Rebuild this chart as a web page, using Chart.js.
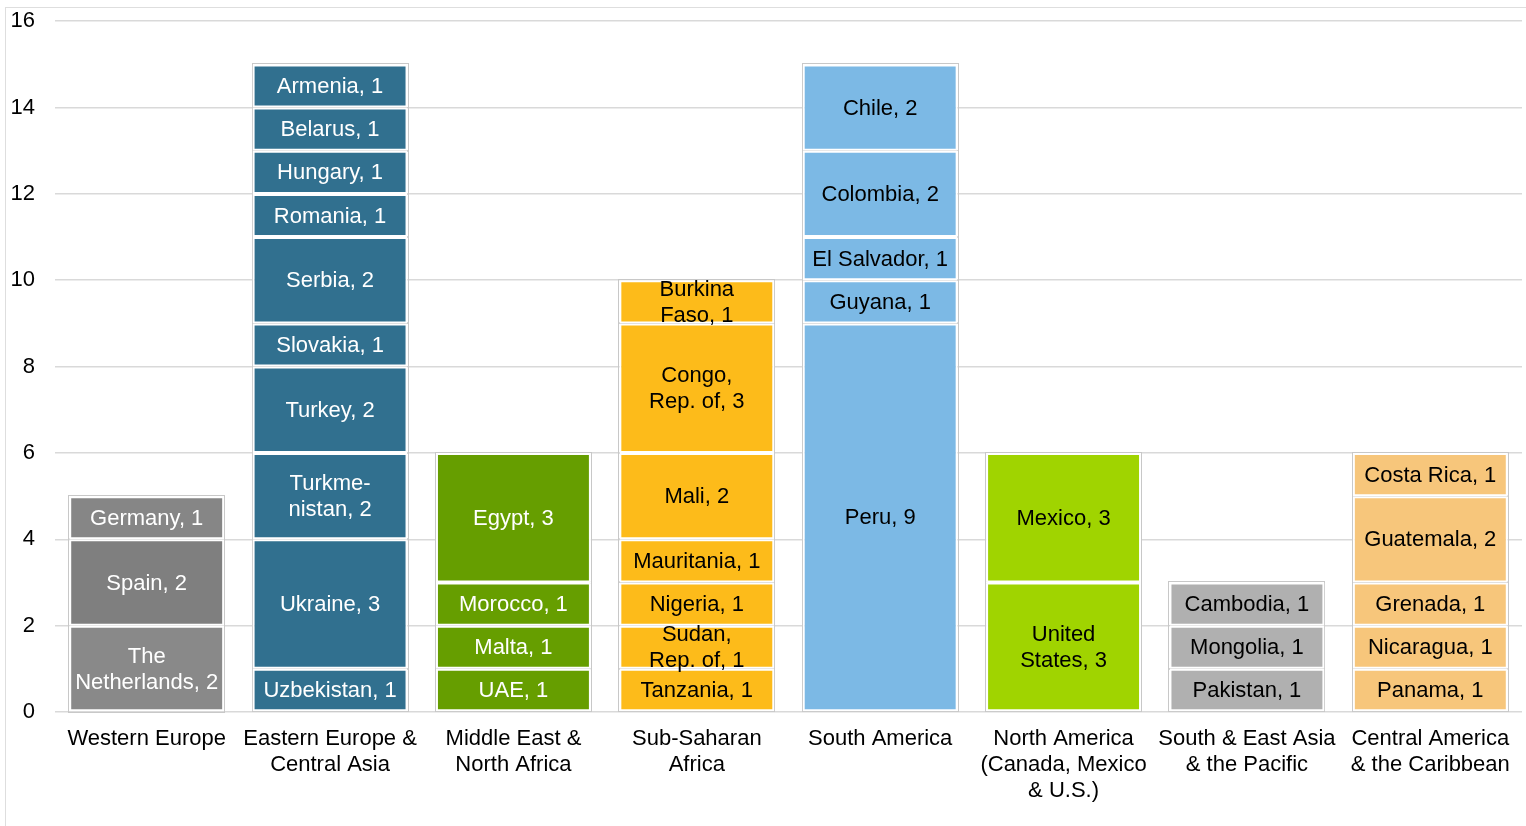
<!DOCTYPE html>
<html>
<head>
<meta charset="utf-8">
<script src="https://cdn.jsdelivr.net/npm/chart.js@4/dist/chart.umd.min.js"></script>
<style>
  html, body { margin: 0; padding: 0; background: #fff; overflow: hidden; }
  #frame { position: absolute; left: 5px; top: 7px; width: 1540px; height: 840px; border: 1px solid #dedede; }
  #wrap { position: absolute; left: 0; top: -12px; width: 1526px; height: 838px; }
</style>
</head>
<body>
<div id="frame"></div>
<div id="wrap"><canvas id="chart"></canvas></div>
<script>
// regions along the x axis
const regions = [
  ['Western Europe'],
  ['Eastern Europe &', 'Central Asia'],
  ['Middle East &', 'North Africa'],
  ['Sub-Saharan', 'Africa'],
  ['South America'],
  ['North America', '(Canada, Mexico', '& U.S.)'],
  ['South & East Asia', '& the Pacific'],
  ['Central America', '& the Caribbean']
];

// countries per region, bottom to top (\n = line break in the label)
const countries = [
  ['The\nNetherlands', 'Spain', 'Germany'],
  ['Uzbekistan', 'Ukraine', 'Turkme-\nnistan', 'Turkey', 'Slovakia', 'Serbia', 'Romania', 'Hungary', 'Belarus', 'Armenia'],
  ['UAE', 'Malta', 'Morocco', 'Egypt'],
  ['Tanzania', 'Sudan,\nRep. of', 'Nigeria', 'Mauritania', 'Mali', 'Congo,\nRep. of', 'Burkina\nFaso'],
  ['Peru', 'Guyana', 'El Salvador', 'Colombia', 'Chile'],
  ['United\nStates', 'Mexico'],
  ['Pakistan', 'Mongolia', 'Cambodia'],
  ['Panama', 'Nicaragua', 'Grenada', 'Guatemala', 'Costa Rica']
];

// count per country, same order
const counts = [
  [2, 2, 1],
  [1, 3, 2, 2, 1, 2, 1, 1, 1, 1],
  [1, 1, 1, 3],
  [1, 1, 1, 1, 2, 3, 1],
  [9, 1, 1, 2, 2],
  [3, 3],
  [1, 1, 1],
  [1, 1, 1, 2, 1]
];

const yTicks = [0, 2, 4, 6, 8, 10, 12, 14, 16];

const regionColors = ['#858585', '#31708f', '#669e00', '#fdbb1a', '#7cb9e5', '#a0d400', '#b0b0b0', '#f7c67b'];
const westColors = ['#898989', '#7f7f7f', '#868686'];
const labelColors = ['#ffffff', '#ffffff', '#ffffff', '#000000', '#000000', '#000000', '#000000', '#000000'];

const levels = Math.max(...counts.map(c => c.length));
const datasets = [];
for (let l = 0; l < levels; l++) {
  datasets.push({
    data: counts.map(c => (l < c.length ? c[l] : null)),
    names: countries.map(c => (l < c.length ? c[l] : null)),
    backgroundColor: ctx => (ctx.dataIndex === 0 ? westColors[l] || regionColors[0] : regionColors[ctx.dataIndex]),
    borderColor: '#ffffff',
    borderWidth: 2,
    borderSkipped: false,
    categoryPercentage: 1,
    barPercentage: 0.845
  });
}

const FONT = 'Arial, "Liberation Sans", sans-serif';

const segmentLabels = {
  id: 'segmentLabels',
  beforeDatasetsDraw(chart) {
    const ctx = chart.ctx;
    ctx.save();
    ctx.strokeStyle = '#c8c8c8';
    ctx.lineWidth = 1;
    chart.data.datasets.forEach((ds, i) => {
      chart.getDatasetMeta(i).data.forEach((bar, j) => {
        if (ds.data[j] == null) return;
        const p = bar.getProps(['x', 'y', 'base', 'width'], true);
        ctx.strokeRect(Math.round(p.x - p.width / 2) - 0.5, Math.round(p.y) - 0.5, Math.round(p.width) + 1, Math.round(p.base - p.y) + 1);
      });
    });
    ctx.restore();
  },
  afterDatasetsDraw(chart) {
    const ctx = chart.ctx;
    ctx.save();
    ctx.font = '22px ' + FONT;
    ctx.textAlign = 'center';
    ctx.textBaseline = 'middle';
    chart.data.datasets.forEach((ds, i) => {
      chart.getDatasetMeta(i).data.forEach((bar, j) => {
        if (ds.data[j] == null) return;
        const p = bar.getProps(['x', 'y', 'base'], true);
        const lines = (ds.names[j] + ', ' + ds.data[j]).split('\n');
        const cy = (p.y + p.base) / 2;
        const lh = 26;
        ctx.fillStyle = labelColors[j];
        lines.forEach((t, k) => {
          ctx.fillText(t, p.x, cy + (k - (lines.length - 1) / 2) * lh + 1);
        });
      });
    });
    ctx.restore();
  }
};

new Chart(document.getElementById('chart'), {
  type: 'bar',
  data: { labels: regions, datasets: datasets },
  options: {
    responsive: true,
    maintainAspectRatio: false,
    animation: false,
    layout: { padding: { top: 8, right: 4, left: 0, bottom: 0 } },
    plugins: { legend: { display: false }, tooltip: { enabled: false } },
    scales: {
      x: {
        stacked: true,
        grid: { display: false },
        border: { display: false },
        ticks: { color: '#000', font: { family: FONT, size: 22, lineHeight: 1.18 }, padding: 6, maxRotation: 0, autoSkip: false },
        afterFit: s => { s.height = 114; }
      },
      y: {
        stacked: true,
        min: 0,
        max: 16,
        afterBuildTicks: s => { s.ticks = yTicks.map(v => ({ value: v })); },
        grid: { color: '#d9d9d9', lineWidth: 1.5, drawTicks: false },
        border: { display: false },
        ticks: { color: '#000', font: { family: FONT, size: 22 }, padding: 20 },
        afterFit: s => { s.width = 55; }
      }
    }
  },
  plugins: [segmentLabels]
});
</script>
</body>
</html>
